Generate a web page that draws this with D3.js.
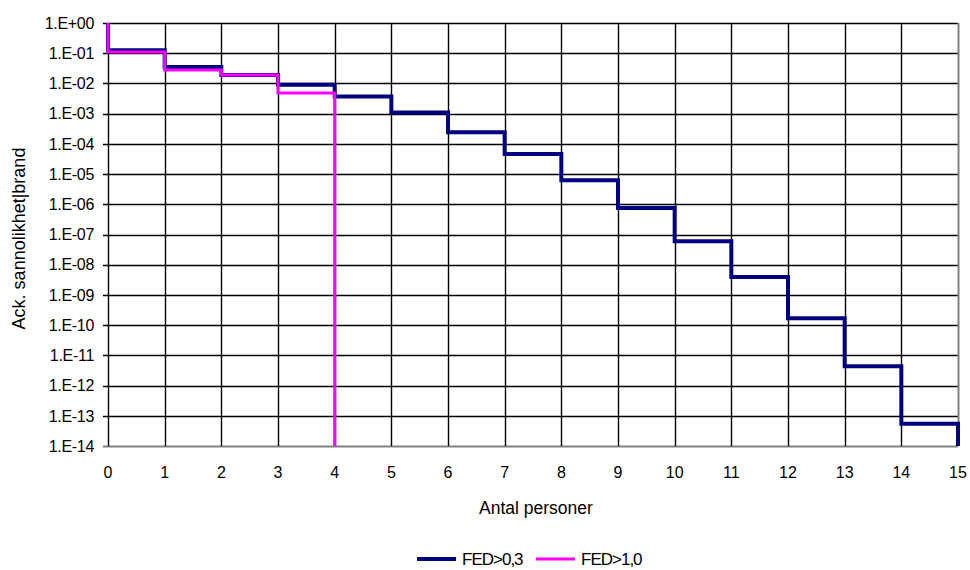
<!DOCTYPE html>
<html lang="sv">
<head>
	<meta charset="utf-8">
	<title>Ack. sannolikhet</title>
	<script src="https://d3js.org/d3.v7.min.js"></script>
	<style type="text/css">
		body { margin: 0; background: #fff; }
		text { font-family: "Liberation Sans", Arial, sans-serif; fill: #000; }
	</style>
</head>
<body>
	<script type="text/javascript">

		// Data
		var fed03 = [0.125, 0.035, 0.019, 0.0090, 0.0037, 0.0011, 0.00024, 4.6e-5, 6.2e-6, 7.6e-7, 6.0e-8, 3.9e-9, 1.7e-10, 4.4e-12, 5.4e-14];
		var fed10 = [0.11, 0.028, 0.019, 0.0048];
		var seriesNames = ["FED>0,3", "FED>1,0"];
		var seriesColors = ["#000080", "#FF00FF"];
		var yTicks = d3.range(0, -15, -1).map(function(e) { return Math.pow(10, e); });
		var xTicks = d3.range(0, 16);

		// Layout
		var width = 970, height = 570;
		var plot = {left: 108, right: 958, top: 23, bottom: 446};

		var svg = d3.select("body")
					.append("svg")
					.attr("width", width)
					.attr("height", height);

		var xScale = d3.scaleLinear()
					   .domain([0, 15])
					   .range([plot.left, plot.right]);

		var yScale = d3.scaleLog()
					   .domain([1e-14, 1])
					   .range([plot.bottom, plot.top])
					   .clamp(true);

		// Grid
		svg.append("g")
			.selectAll("line")
			.data(yTicks)
			.enter()
			.append("line")
			.attr("x1", plot.left - 5)
			.attr("x2", plot.right)
			.attr("y1", function(d) { return Math.round(yScale(d)) + 0.5; })
			.attr("y2", function(d) { return Math.round(yScale(d)) + 0.5; })
			.attr("stroke", function(d) { return d === 1e-14 ? "#808080" : "#000"; })
			.attr("stroke-width", function(d) { return d === 1e-14 ? 2 : 1.4; });

		svg.append("g")
			.selectAll("line")
			.data(xTicks)
			.enter()
			.append("line")
			.attr("x1", function(d) { return Math.round(xScale(d)) + 0.5; })
			.attr("x2", function(d) { return Math.round(xScale(d)) + 0.5; })
			.attr("y1", plot.top)
			.attr("y2", plot.bottom)
			.attr("stroke", function(d) { return d === 15 ? "#808080" : "#000"; })
			.attr("stroke-width", function(d) { return d === 15 ? 2 : 1.4; });

		// Y tick labels
		svg.append("g")
			.selectAll("text")
			.data(yTicks)
			.enter()
			.append("text")
			.attr("x", 94)
			.attr("y", function(d) { return yScale(d); })
			.attr("dy", "0.36em")
			.attr("text-anchor", "end")
			.style("font-size", "16px")
			.style("letter-spacing", "-0.3px")
			.text(function(d) {
				var e = Math.round(Math.log10(d));
				return "1.E" + (e >= 0 ? "+" : "-") + d3.format("02d")(Math.abs(e));
			});

		// X tick labels
		svg.append("g")
			.selectAll("text")
			.data(xTicks)
			.enter()
			.append("text")
			.attr("x", function(d) { return xScale(d); })
			.attr("y", 478)
			.attr("text-anchor", "middle")
			.style("font-size", "16px")
			.text(function(d) { return d; });

		// Axis titles
		svg.append("text")
			.attr("x", 536)
			.attr("y", 514)
			.attr("text-anchor", "middle")
			.style("font-size", "17.5px")
			.text("Antal personer");

		svg.append("text")
			.attr("transform", "translate(25," + ((plot.top + plot.bottom) / 2 + 4) + ") rotate(-90)")
			.attr("text-anchor", "middle")
			.style("font-size", "18px")
			.text("Ack. sannolikhet|brand");

		// Step lines
		function stepPoints(vals) {
			var pts = [[0, 1]];
			vals.forEach(function(v, i) { pts.push([i, v]); });
			pts.push([vals.length, vals[vals.length - 1]]);
			pts.push([vals.length, 1e-20]);
			return pts;
		}

		var line = d3.line()
					 .curve(d3.curveStepAfter)
					 .x(function(d) { return xScale(d[0]); })
					 .y(function(d) { return yScale(d[1]); });

		svg.append("path")
			.attr("d", line(stepPoints(fed03)))
			.attr("fill", "none")
			.attr("stroke", seriesColors[0])
			.attr("stroke-width", 4);

		svg.append("path")
			.attr("d", line(stepPoints(fed10)))
			.attr("fill", "none")
			.attr("stroke", seriesColors[1])
			.attr("stroke-width", 3);

		// Legend
		var legend = svg.append("g");
		var legendX = [417, 536];
		seriesNames.forEach(function(name, i) {
			legend.append("line")
				.attr("x1", legendX[i])
				.attr("x2", legendX[i] + 39)
				.attr("y1", 559)
				.attr("y2", 559)
				.attr("stroke", seriesColors[i])
				.attr("stroke-width", i === 0 ? 4 : 3);
			legend.append("text")
				.attr("x", legendX[i] + 45)
				.attr("y", 559)
				.attr("dy", "0.36em")
				.style("font-size", "17px")
				.style("letter-spacing", "-1px")
				.text(name);
		});

	</script>
</body>
</html>
